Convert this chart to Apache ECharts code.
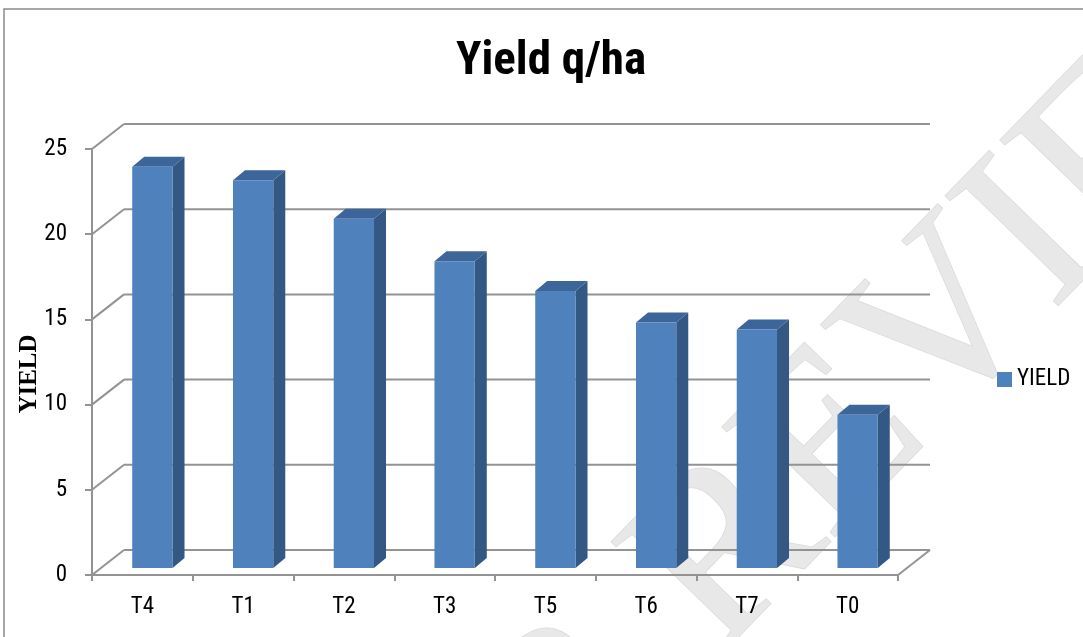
<!DOCTYPE html>
<html>
<head>
<meta charset="utf-8">
<script src="https://cdn.jsdelivr.net/npm/echarts@6.0.0/dist/echarts.min.js"></script>
<style>
html,body{margin:0;padding:0;background:#fff;}
#chart{width:1083px;height:637px;}
</style>
</head>
<body>
<div id="chart"></div>
<script>
var categories = ['T4', 'T1', 'T2', 'T3', 'T5', 'T6', 'T7', 'T0'];
var yieldValues = [23.55, 22.75, 20.5, 18.0, 16.25, 14.4, 14.0, 9.0];
var yTicks = [0, 5, 10, 15, 20, 25];
var seriesName = 'YIELD';
var titleText = 'Yield q/ha';
var yAxisName = 'YIELD';
var watermarkLetters = ['R', 'R', 'E', 'V', 'I', 'E'];

var NARROW = '"Liberation Sans Narrow", "Arial Narrow", "Roboto Condensed", Roboto, sans-serif';
var SERIF = '"Liberation Serif", "Times New Roman", serif';
var DEPTH_X = 32, DEPTH_Y = -25;
var BAR_OFF_X = 10, BAR_OFF_Y = -7;
var BAR_D_X = 12, BAR_D_Y = -10;
var GRID_COLOR = '#939393';

var chart = echarts.init(document.getElementById('chart'));

function renderWall(params, api) {
  var cs = params.coordSys;
  var v = api.value(0);
  var y = api.coord([0, v])[1];
  var x0 = cs.x, x1 = cs.x + cs.width;
  var style = { stroke: GRID_COLOR, lineWidth: 2 };
  var children = [
    { type: 'line', shape: { x1: x0 + DEPTH_X, y1: y + DEPTH_Y, x2: x1 + DEPTH_X, y2: y + DEPTH_Y }, style: style },
    { type: 'line', shape: { x1: x0, y1: y, x2: x0 + DEPTH_X, y2: y + DEPTH_Y }, style: style }
  ];
  if (v === 0) {
    children.push({ type: 'line', shape: { x1: x1, y1: y, x2: x1 + DEPTH_X, y2: y + DEPTH_Y }, style: style });
  }
  return { type: 'group', children: children };
}

function renderBar(params, api) {
  var idx = api.value(0);
  var val = api.value(1);
  var top = api.coord([idx, val]);
  var base = api.coord([idx, 0]);
  var band = api.size([1, 0])[0];
  var w = band * 0.4;
  var x0 = top[0] + BAR_OFF_X - w / 2;
  var x1 = x0 + w;
  var yt = top[1] + BAR_OFF_Y;
  var yb = base[1] + BAR_OFF_Y;
  return {
    type: 'group',
    children: [
      { type: 'polygon', shape: { points: [[x1, yt], [x1 + BAR_D_X, yt + BAR_D_Y], [x1 + BAR_D_X, yb + BAR_D_Y], [x1, yb]] },
        style: { fill: '#335884' } },
      { type: 'polygon', shape: { points: [[x0, yt], [x0 + BAR_D_X, yt + BAR_D_Y], [x1 + BAR_D_X, yt + BAR_D_Y], [x1, yt]] },
        style: { fill: '#3c6599' } },
      { type: 'rect', shape: { x: x0, y: yt, width: w, height: yb - yt },
        style: { fill: '#4f81bd' } }
    ]
  };
}

// decorative background watermark letters
var wmPos = [[575, 715], [730, 555], [836, 445], [947, 330], [1035, 239], [1114, 158]];
var wmGraphics = watermarkLetters.map(function (ch, i) {
  return {
    type: 'text',
    x: wmPos[i][0], y: wmPos[i][1], rotation: 0.8,
    z: -5, silent: true,
    style: { text: ch, font: '240px ' + SERIF, fill: '#e8e8e8', stroke: '#dadada', lineWidth: 1.5,
             align: 'center', verticalAlign: 'middle' }
  };
});

var option = {
  backgroundColor: '#ffffff',
  animation: false,
  title: {
    text: titleText,
    left: 451,
    top: 34,
    textStyle: { fontFamily: NARROW, fontWeight: 'bold', fontSize: 47, color: '#000' }
  },
  legend: {
    data: [seriesName],
    left: 992,
    top: 363,
    icon: 'rect',
    itemWidth: 15,
    itemHeight: 15,
    itemGap: 6,
    textStyle: { fontFamily: NARROW, fontSize: 23, color: '#000' }
  },
  graphic: [
    { type: 'rect', shape: { x: 4, y: 9, width: 1200, height: 800 },
      style: { fill: 'none', stroke: '#8a8a8a', lineWidth: 1.5 }, z: -10 }
  ].concat(wmGraphics),
  grid: { left: 92, top: 149, width: 806, height: 426 },
  xAxis: {
    type: 'category',
    data: categories,
    boundaryGap: true,
    axisLine: { show: true, lineStyle: { color: GRID_COLOR, width: 2 } },
    axisTick: { show: true, alignWithLabel: false, length: 6, lineStyle: { color: GRID_COLOR, width: 2 } },
    axisLabel: { fontFamily: NARROW, fontSize: 23, color: '#000', margin: 21 },
    splitLine: { show: false }
  },
  yAxis: {
    type: 'value',
    min: 0,
    max: 25,
    interval: 5,
    name: yAxisName,
    nameLocation: 'middle',
    nameGap: 50,
    nameMoveOverlap: false,
    nameTextStyle: { fontFamily: SERIF, fontWeight: 'bold', fontSize: 25, color: '#000', padding: [0, 24, 0, 0] },
    axisLine: { show: true, lineStyle: { color: GRID_COLOR, width: 2 } },
    axisTick: { show: true, length: 7, lineStyle: { color: GRID_COLOR, width: 2 } },
    axisLabel: { fontFamily: NARROW, fontSize: 23, color: '#000', margin: 25 },
    splitLine: { show: false }
  },
  series: [
    {
      name: 'walls',
      type: 'custom',
      renderItem: renderWall,
      data: yTicks.map(function (t) { return [t]; }),
      encode: { y: 0 },
      silent: true,
      z: 1
    },
    {
      name: seriesName,
      type: 'custom',
      renderItem: renderBar,
      itemStyle: { color: '#4f81bd' },
      data: yieldValues.map(function (v, i) { return [i, v]; }),
      encode: { x: 0, y: 1 },
      z: 5
    }
  ]
};
chart.setOption(option);
</script>
</body>
</html>
